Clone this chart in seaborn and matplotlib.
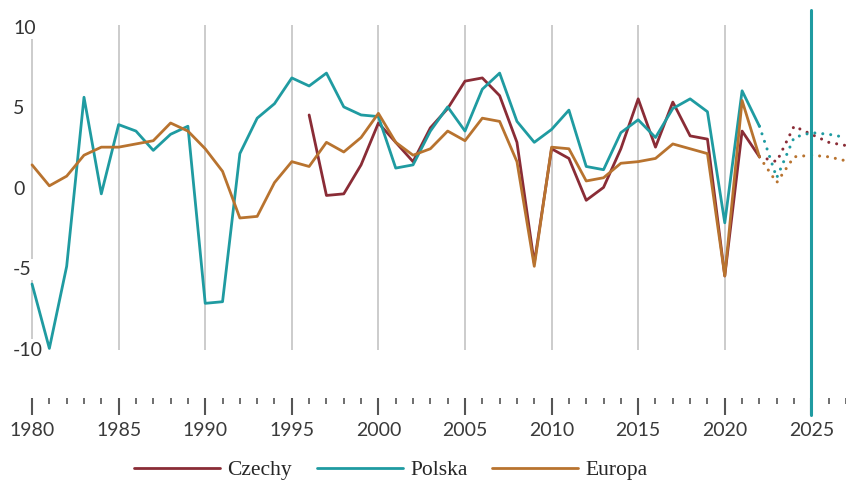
import numpy as np
import pandas as pd
import matplotlib
matplotlib.use("Agg")
import matplotlib.pyplot as plt
import seaborn as sns

years = list(range(1980, 2023))
polska = [-5.9, -9.9, -4.8, 5.7, -0.3, 4.0, 3.6, 2.4, 3.4, 3.9,
          -7.1, -7.0, 2.2, 4.4, 5.3, 6.9, 6.4, 7.2, 5.1, 4.6,
          4.5, 1.3, 1.5, 3.6, 5.1, 3.6, 6.2, 7.2, 4.2, 2.9,
          3.7, 4.9, 1.4, 1.2, 3.5, 4.3, 3.2, 5.0, 5.6, 4.8,
          -2.1, 6.1, 3.9]
europa = [1.5, 0.2, 0.8, 2.1, 2.6, 2.6, 2.8, 3.0, 4.1, 3.6,
          2.5, 1.1, -1.8, -1.7, 0.4, 1.7, 1.4, 2.9, 2.3, 3.2,
          4.7, 2.9, 2.1, 2.5, 3.6, 3.0, 4.4, 4.2, 1.7, -4.8,
          2.6, 2.5, 0.5, 0.7, 1.6, 1.7, 1.9, 2.8, 2.5, 2.2,
          -5.4, 5.5, 2.0]
years_cz = list(range(1996, 2023))
czechy = [4.6, -0.4, -0.3, 1.5, 4.1, 2.9, 1.7, 3.8, 5.0, 6.7,
          6.9, 5.8, 2.9, -4.6, 2.5, 1.9, -0.7, 0.1, 2.5, 5.6,
          2.6, 5.4, 3.3, 3.1, -5.4, 3.6, 2.0]

# forecasts
years_f = list(range(2022, 2028))
polska_f = [3.9, 0.7, 3.2, 3.5, 3.4, 3.2]
czechy_f = [2.0, 1.7, 3.9, 3.4, 2.9, 2.7]
europa_f = [2.0, 0.4, 2.0, 2.1, 2.0, 1.75]

grid_years = list(range(1980, 2026, 5))
y_ticks = [10, 5, 0, -5, -10]
current_year = 2025

colors = {"Czechy": "#8a2c36", "Polska": "#1f9ba1", "Europa": "#b8732f"}

sns.set_theme(style="white")
plt.rcParams["font.family"] = ["Lato", "DejaVu Sans"]

fig = plt.figure(figsize=(8.46, 4.82), dpi=100)
ax = fig.add_axes([0, 84 / 482, 1, 398 / 482])

# vertical gridlines
ax.vlines(grid_years, -10, 10.2, color="#cccccc", lw=1.4, zorder=0)

hist = [("Czechy", years_cz, czechy), ("Polska", years, polska), ("Europa", years, europa)]
fcst = [("Czechy", czechy_f), ("Polska", polska_f), ("Europa", europa_f)]

for name, xs, ys in hist:
    sns.lineplot(x=xs, y=ys, color=colors[name], lw=2, ax=ax, label=name, zorder=3)

for name, ys in fcst:
    sns.lineplot(x=years_f, y=ys, color=colors[name], lw=2.2, ax=ax,
                 linestyle=(0, (0.01, 2.6)), dash_capstyle="round",
                 legend=False, zorder=3)

# current year marker
ax.axvline(current_year, ymin=-0.043, ymax=0.975, color="#1f9ba1", lw=2.2,
           clip_on=False, zorder=4)

# y labels sit on top of the first gridline
for v in y_ticks:
    ax.text(1978.9, v, f"{v}", ha="left", va="center", fontsize=14, color="#333333",
            bbox=dict(facecolor="white", edgecolor="none", pad=1.5), zorder=2)

ax.set_xlim(1978.15, 2026.97)
ax.set_ylim(-12.98, 11.74)
ax.set_yticks([])
ax.set_xticks(grid_years)
ax.set_xticks(range(1980, 2028), minor=True)
ax.set_xticklabels([str(y) for y in grid_years])
ax.tick_params(axis="x", which="major", direction="out", length=12.5, width=1.5,
               color="#555555", labelsize=14, labelcolor="#3a3a3a", pad=5, bottom=True)
ax.tick_params(axis="x", which="minor", direction="out", length=4.5, width=1.2,
               color="#555555", bottom=True)
for s in ax.spines.values():
    s.set_visible(False)
ax.set_xlabel("")
ax.set_ylabel("")

ax.legend_.remove()
handles, labels = ax.get_legend_handles_labels()
fig.legend(handles, labels, loc="center", bbox_to_anchor=(391 / 846, 1 - 470 / 482),
           ncol=3, frameon=False, handlelength=4.0, handletextpad=0.33,
           columnspacing=1.15, prop={"family": "Liberation Serif", "size": 15.5})

fig.savefig("out.png", dpi=100)
